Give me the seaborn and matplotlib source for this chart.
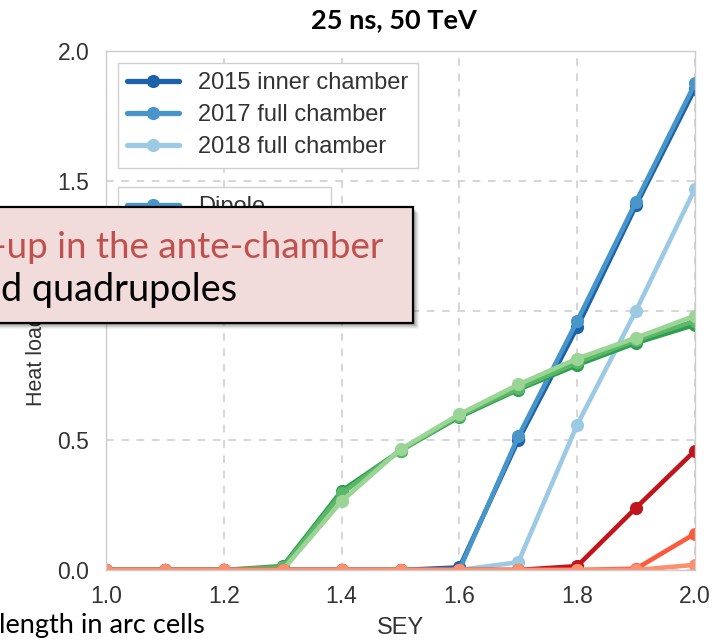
import matplotlib
matplotlib.use("Agg")
import matplotlib.pyplot as plt
import seaborn as sns
import pandas as pd
from matplotlib.patches import Rectangle
from matplotlib.lines import Line2D

# ---------------- data ----------------
sey = [1.0, 1.1, 1.2, 1.3, 1.4, 1.5, 1.6, 1.7, 1.8, 1.9, 2.0]
dip_2015 = [0, 0, 0, 0, 0, 0, 0.01, 0.50, 0.935, 1.405, 1.855]
dip_2017 = [0, 0, 0, 0, 0, 0, 0.0, 0.515, 0.96, 1.42, 1.875]
dip_2018 = [0, 0, 0, 0, 0, 0, 0.0, 0.03, 0.56, 1.0, 1.47]
quad_2015 = [0, 0, 0, 0.015, 0.305, 0.46, 0.59, 0.695, 0.79, 0.875, 0.945]
quad_2017 = [0, 0, 0, 0.01, 0.295, 0.46, 0.595, 0.70, 0.80, 0.885, 0.96]
quad_2018 = [0, 0, 0, 0.0, 0.265, 0.465, 0.60, 0.715, 0.815, 0.895, 0.98]
drift_2015 = [0, 0, 0, 0, 0, 0, 0, 0, 0.015, 0.24, 0.46]
drift_2017 = [0, 0, 0, 0, 0, 0, 0, 0, 0, 0.005, 0.14]
drift_2018 = [0, 0, 0, 0, 0, 0, 0, 0, 0, 0, 0.02]

year_labels = ["2015 inner chamber", "2017 full chamber", "2018 full chamber"]
type_labels = ["Dipole", "Quadrupole", "Drift"]
blues = ["#1b62ab", "#4896c9", "#9cc9e3"]
greens = ["#2f9e4f", "#5bb868", "#9bd595"]
reds = ["#c0151d", "#fb5a3c", "#fc8f6e"]

series = [
    ("dip_2015", dip_2015, blues[0]), ("dip_2017", dip_2017, blues[1]), ("dip_2018", dip_2018, blues[2]),
    ("quad_2015", quad_2015, greens[0]), ("quad_2017", quad_2017, greens[1]), ("quad_2018", quad_2018, greens[2]),
    ("drift_2015", drift_2015, reds[0]), ("drift_2017", drift_2017, reds[1]), ("drift_2018", drift_2018, reds[2]),
]

rows = []
for name, vals, _ in series:
    for x, y in zip(sey, vals):
        rows.append({"SEY": x, "heat": y, "series": name})
df = pd.DataFrame(rows)
palette = {name: c for name, _, c in series}
order = [name for name, _, _ in series]

# ---------------- style ----------------
sns.set_theme(style="whitegrid")
plt.rcParams["font.family"] = ["Liberation Sans", "DejaVu Sans"]
plt.rcParams["axes.edgecolor"] = "#cccccc"
plt.rcParams["grid.color"] = "#cccccc"

W, H = 715, 641
fig = plt.figure(figsize=(W / 100, H / 100), dpi=100)
L, R, T, B = 106, 695, 51, 570
ax = fig.add_axes([L / W, (H - B) / H, (R - L) / W, (B - T) / H])

sns.lineplot(data=df, x="SEY", y="heat", hue="series", hue_order=order, palette=palette,
             marker="o", markersize=9.5, markeredgewidth=0, linewidth=3.3, legend=False, ax=ax)

ax.set_xlim(1.0, 2.0)
ax.set_ylim(0.0, 2.0)
ax.set_xticks([1.0, 1.2, 1.4, 1.6, 1.8, 2.0])
ax.set_yticks([0.0, 0.5, 1.0, 1.5, 2.0])
ax.xaxis.set_major_formatter(matplotlib.ticker.FormatStrFormatter("%.1f"))
ax.yaxis.set_major_formatter(matplotlib.ticker.FormatStrFormatter("%.1f"))
ax.grid(True, linestyle=(0, (5, 5)), linewidth=1.1, color="#cccccc")
ax.tick_params(axis="both", labelsize=16.5, colors="#333333", length=0)
ax.tick_params(axis="y", pad=12)
ax.tick_params(axis="x", pad=11)
for s in ax.spines.values():
    s.set_color("#cccccc")
    s.set_linewidth(1.0)
ax.set_xlabel("SEY", fontsize=17, color="#333333", labelpad=6)
ax.set_ylabel("Heat load [W/m]", fontsize=15.5, color="#333333")
ax.yaxis.set_label_coords(-0.100, 0.465)

# legends
year_handles = [Line2D([0], [0], color=c, lw=3.8, marker="o", markersize=9.5, markeredgewidth=0) for c in blues]
leg1 = ax.legend(year_handles, year_labels, loc="upper left", fontsize=17, frameon=True,
                 fancybox=False, edgecolor="#d0d0d0", framealpha=1, handlelength=2.2,
                 labelspacing=0.42, borderaxespad=0.5, borderpad=0.4)
for t in leg1.get_texts():
    t.set_color("#333333")
ax.add_artist(leg1)
type_handles = [Line2D([0], [0], color=c, lw=3.8, marker="o", markersize=9.5, markeredgewidth=0)
                for c in [blues[1], greens[1], reds[1]]]
leg2 = ax.legend(type_handles, type_labels, loc="upper left", bbox_to_anchor=(0.02, 0.738),
                 fontsize=17, frameon=True, fancybox=False, edgecolor="#d0d0d0", framealpha=1,
                 handlelength=2.2, labelspacing=0.42, borderaxespad=0.0, borderpad=0.4)
for t in leg2.get_texts():
    t.set_color("#333333")

# ---------------- slide overlays ----------------
def fx(px):
    return px / W

def fy(py):
    return (H - py) / H

# title
fig.text(fx(394), fy(28), "25 ns, 50 TeV", ha="center", va="baseline",
         fontsize=19.5, fontweight="bold", family=["Lato", "DejaVu Sans"], color="black")

# shadow of call-out box
bx0, bx1, by0, by1 = -20, 413, 207, 323
for i, a in enumerate([0.10, 0.10, 0.10, 0.08, 0.06, 0.05]):
    off = 1 + i
    fig.add_artist(Rectangle((fx(bx0 + off), fy(by1 + off)), fx(bx1 - bx0), (by1 - by0) / H,
                             transform=fig.transFigure, facecolor="black", edgecolor="none",
                             alpha=a, zorder=9))
fig.add_artist(Rectangle((fx(bx0), fy(by1)), fx(bx1 - bx0), (by1 - by0) / H,
                         transform=fig.transFigure, facecolor="#f2dcdb", edgecolor="black",
                         linewidth=1.6, zorder=10))
fig.text(fx(383), fy(258), "-up in the ante-chamber", ha="right", va="baseline",
         fontsize=26.5, family=["Lato", "DejaVu Sans"], color="#c0504d", zorder=11)
fig.text(fx(1), fy(301), "d quadrupoles", ha="left", va="baseline",
         fontsize=27.3, family=["Lato", "DejaVu Sans"], color="black", zorder=11)

# bottom-left slide text
fig.text(fx(205), fy(633), "length in arc cells", ha="right", va="baseline",
         fontsize=19.5, family=["Lato", "DejaVu Sans"], color="black", zorder=11)

fig.savefig("out.png", dpi=100)
